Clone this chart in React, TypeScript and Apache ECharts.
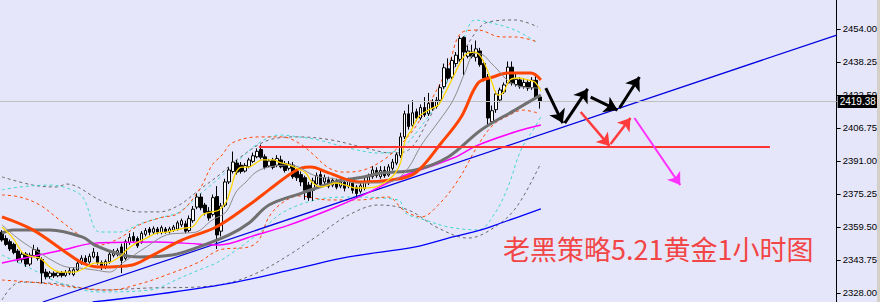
import { useEffect, useRef } from "react";
import * as echarts from "echarts";

// ---- candle data (bar index 0..135), [open, close, low, high] split into arrays ----
const opens = [
  2357.1, 2354.0, 2352.5, 2351.2, 2348.0, 2343.9, 2346.6, 2341.8, 2345.8, 2348.5,
  2344.0, 2338.0, 2335.8, 2337.4, 2336.2, 2337.6, 2336.4, 2337.5, 2336.8, 2339.0,
  2342.2, 2344.6, 2342.8, 2345.2, 2345.5, 2342.5, 2340.5, 2343.0, 2346.0, 2346.5,
  2350.0, 2344.5, 2352.0, 2355.0, 2354.0, 2352.5, 2356.0, 2358.5, 2357.0, 2358.5,
  2356.8, 2358.5, 2357.2, 2358.0, 2358.5, 2360.5, 2361.0, 2357.8, 2362.5, 2369.0,
  2373.8, 2370.0, 2367.0, 2365.5, 2374.0, 2357.5, 2370.0, 2381.0, 2386.0, 2390.0,
  2389.0, 2386.2, 2388.3, 2390.8, 2393.0, 2396.5, 2393.0, 2388.6, 2391.5, 2389.0,
  2391.5, 2389.8, 2387.5, 2389.0, 2386.0, 2384.5, 2383.0, 2379.5, 2377.0, 2380.0,
  2384.5, 2381.0, 2382.0, 2379.5, 2381.5, 2379.0, 2380.8, 2379.0, 2380.5, 2378.5,
  2376.5, 2378.0, 2380.5, 2383.5, 2386.5, 2383.5, 2386.5, 2384.3, 2387.5, 2390.0,
  2393.5, 2402.5, 2413.5, 2408.0, 2414.5, 2411.5, 2416.5, 2413.5, 2419.0, 2417.0,
  2420.0, 2426.5, 2435.0, 2431.0, 2437.5, 2439.5, 2450.0, 2441.0, 2443.0, 2440.5,
  2443.5, 2437.5, 2431.0, 2409.8, 2415.5, 2420.1, 2424.0, 2428.2, 2435.8, 2427.5,
  2429.7, 2426.5, 2428.5, 2426.0, 2429.5, 2421.5,
];
const closes = [
  2353.3, 2351.2, 2349.0, 2347.3, 2343.7, 2346.5, 2341.8, 2346.0, 2348.7, 2344.5,
  2337.6, 2335.8, 2337.5, 2336.2, 2337.6, 2336.4, 2337.8, 2338.6, 2339.1, 2342.2,
  2344.6, 2342.8, 2345.5, 2347.5, 2342.5, 2340.3, 2343.0, 2346.5, 2347.8, 2348.2,
  2343.5, 2352.5, 2354.5, 2353.0, 2350.5, 2356.5, 2357.8, 2357.0, 2358.7, 2357.0,
  2359.2, 2357.2, 2358.6, 2359.5, 2361.5, 2362.5, 2357.5, 2363.5, 2368.0, 2373.8,
  2368.7, 2366.5, 2363.8, 2373.5, 2355.7, 2369.5, 2381.0, 2386.7, 2390.5, 2385.7,
  2386.0, 2388.8, 2391.5, 2393.5, 2395.6, 2392.8, 2388.0, 2391.0, 2388.0, 2392.2,
  2388.2, 2386.5, 2389.5, 2383.5, 2383.0, 2381.0, 2377.0, 2373.5, 2381.5, 2384.0,
  2379.8, 2383.0, 2379.0, 2381.8, 2378.5, 2381.0, 2378.0, 2381.5, 2377.0, 2375.5,
  2379.2, 2381.0, 2383.5, 2386.7, 2384.0, 2386.5, 2384.0, 2388.2, 2390.5, 2394.0,
  2402.5, 2413.5, 2407.5, 2414.0, 2411.5, 2416.5, 2413.0, 2418.5, 2416.0, 2420.0,
  2426.0, 2435.5, 2430.5, 2439.0, 2441.5, 2449.5, 2443.0, 2443.5, 2441.0, 2444.5,
  2437.0, 2430.5, 2411.5, 2415.0, 2423.0, 2424.9, 2427.3, 2435.8, 2428.2, 2430.0,
  2426.5, 2428.5, 2425.8, 2429.5, 2421.5, 2419.38,
];
const lows = [
  2352.5, 2350.5, 2348.0, 2346.5, 2342.5, 2342.5, 2340.5, 2340.8, 2345.0, 2343.5,
  2332.5, 2334.5, 2334.8, 2335.2, 2335.5, 2335.4, 2335.7, 2336.5, 2336.0, 2338.3,
  2341.5, 2341.7, 2342.0, 2344.5, 2341.5, 2339.0, 2339.5, 2342.0, 2345.0, 2345.5,
  2337.5, 2343.5, 2351.0, 2352.0, 2349.5, 2351.5, 2355.0, 2355.5, 2356.0, 2356.0,
  2356.0, 2356.3, 2356.4, 2357.2, 2357.8, 2359.5, 2356.5, 2357.0, 2361.5, 2368.0,
  2367.5, 2365.0, 2362.5, 2364.5, 2349.0, 2355.0, 2369.0, 2380.0, 2385.0, 2384.5,
  2385.0, 2385.5, 2387.5, 2390.0, 2392.3, 2391.8, 2387.0, 2388.0, 2387.0, 2388.0,
  2387.5, 2385.5, 2386.5, 2382.5, 2381.5, 2379.0, 2372.5, 2372.0, 2372.0, 2379.0,
  2378.5, 2380.0, 2378.0, 2378.5, 2377.5, 2378.0, 2376.5, 2378.0, 2375.5, 2373.5,
  2375.5, 2377.0, 2379.5, 2382.5, 2383.0, 2382.5, 2383.0, 2383.5, 2386.5, 2389.0,
  2392.5, 2401.5, 2406.0, 2407.0, 2410.0, 2410.5, 2412.0, 2412.5, 2415.0, 2416.0,
  2419.0, 2425.5, 2429.5, 2430.0, 2436.0, 2438.5, 2432.0, 2440.0, 2440.0, 2438.5,
  2436.0, 2429.0, 2407.5, 2408.5, 2414.0, 2419.0, 2423.0, 2427.5, 2427.0, 2426.5,
  2425.5, 2425.5, 2424.5, 2425.0, 2420.5, 2416.0,
];
const highs = [
  2358.0, 2355.5, 2353.5, 2352.0, 2349.0, 2347.5, 2347.5, 2347.2, 2351.0, 2349.8,
  2345.0, 2339.5, 2338.5, 2338.3, 2338.6, 2338.5, 2339.0, 2340.0, 2340.3, 2343.5,
  2346.0, 2346.0, 2346.8, 2349.5, 2347.5, 2343.5, 2344.0, 2347.5, 2349.0, 2349.3,
  2351.5, 2353.5, 2356.5, 2357.0, 2355.0, 2357.5, 2359.0, 2359.5, 2359.8, 2359.5,
  2360.2, 2359.5, 2359.6, 2360.5, 2362.5, 2363.5, 2362.5, 2365.0, 2369.5, 2375.5,
  2375.5, 2371.0, 2369.0, 2375.0, 2379.0, 2371.0, 2382.5, 2388.0, 2395.5, 2391.5,
  2390.5, 2390.0, 2392.5, 2395.0, 2397.0, 2398.8, 2394.2, 2392.0, 2392.5, 2393.8,
  2393.5, 2391.0, 2391.0, 2390.5, 2387.5, 2386.0, 2384.0, 2381.0, 2383.0, 2385.5,
  2386.5, 2384.5, 2383.5, 2383.0, 2382.5, 2382.5, 2382.0, 2383.0, 2381.5, 2379.5,
  2380.5, 2383.5, 2385.0, 2388.5, 2388.0, 2388.5, 2388.5, 2389.5, 2392.0, 2395.0,
  2404.5, 2415.0, 2418.0, 2420.0, 2416.0, 2418.0, 2421.5, 2423.5, 2420.5, 2421.5,
  2427.5, 2437.5, 2440.0, 2440.5, 2443.0, 2450.5, 2450.5, 2446.0, 2446.5, 2448.5,
  2445.0, 2439.0, 2432.5, 2417.5, 2424.5, 2426.0, 2428.5, 2438.5, 2438.5, 2432.5,
  2431.0, 2430.5, 2430.0, 2431.0, 2433.0, 2422.0,
];

// ---- indicator lines: [bar index, price] ----
const maFast = [
  [0, 2359.5], [2.75, 2354.2], [5.25, 2347.1], [7.75, 2345.2], [9.5, 2344.7], [12, 2340.4],
  [14.5, 2338.0], [18.25, 2338.0], [21.25, 2340.4], [23.25, 2342.3], [26.25, 2342.3],
  [29.5, 2345.2], [31.25, 2348.5], [33.75, 2351.9], [36.25, 2354.2], [38.75, 2356.6],
  [41.25, 2357.1], [43.75, 2358.1], [45.75, 2359.0], [47.75, 2359.5], [50.25, 2365.2],
  [52.75, 2366.7], [54.5, 2367.6], [56.25, 2371.4], [57.5, 2378.1], [58.75, 2385.7],
  [60.25, 2388.1], [62, 2388.1], [63.75, 2390.0], [65.25, 2391.5], [68.25, 2391.5],
  [69.5, 2390.5], [72, 2389.1], [73.75, 2387.7], [76.25, 2385.3], [77.75, 2381.0],
  [80.25, 2378.6], [82, 2379.5], [83.75, 2380.5], [86.25, 2379.5], [88.75, 2378.1],
  [90.75, 2378.1], [93.75, 2378.6], [97, 2381.9], [98.75, 2385.3], [100, 2390.0],
  [101.25, 2401.0], [102.75, 2405.8], [104.5, 2412.0], [107, 2415.3], [109.5, 2417.7],
  [111.25, 2423.5], [113.25, 2431.1], [116.25, 2441.6], [118.75, 2443.0], [120.25, 2440.6],
  [121.5, 2435.9], [122.75, 2429.7], [124.5, 2422.5], [125.75, 2423.5], [127.5, 2429.7],
  [129.5, 2430.6], [132, 2429.7], [133.75, 2428.7], [135.25, 2424.4],
];
const maMid = [
  [0, 2360.5], [4.5, 2353.3], [9.5, 2347.1], [13.75, 2342.3], [16.25, 2340.4], [19.5, 2339.9],
  [23.25, 2339.0], [27, 2338.0], [30.25, 2342.3], [36.25, 2350.0], [41.25, 2355.7],
  [45.75, 2356.6], [48.75, 2357.1], [52.75, 2362.8], [56.25, 2366.7], [58.75, 2376.2],
  [61.25, 2381.0], [63.75, 2385.7], [67, 2388.1], [72, 2389.1], [74.5, 2388.1], [77, 2385.3],
  [79.5, 2383.4], [82, 2382.9], [85.25, 2381.9], [88.75, 2380.5], [94.5, 2380.5],
  [98.75, 2381.9], [102, 2387.7], [105.25, 2398.6], [109.5, 2409.6], [113.25, 2420.1],
  [116.25, 2433.5], [118.75, 2442.5], [120.75, 2441.6], [122.75, 2437.8], [124.5, 2434.4],
  [126.25, 2430.6], [128.25, 2427.8], [130.75, 2426.3], [135.25, 2425.8],
];
const maOrange = [
  [0, 2364.3], [7.75, 2358.1], [16.25, 2347.1], [20.25, 2342.3], [24.5, 2340.4], [32.75, 2341.4],
  [37, 2345.2], [45.25, 2353.3], [53.75, 2359.5], [62, 2370.0], [67, 2377.2], [72, 2384.3],
  [75.25, 2387.7], [77.5, 2388.1], [82, 2385.3], [89.5, 2381.0], [97.75, 2381.9],
  [103.75, 2385.3], [110.25, 2399.6], [115.25, 2412.0], [119.5, 2428.2], [123.25, 2431.1],
  [127, 2433.0], [132.75, 2433.0], [135.25, 2429.7],
];
const maSlow = [
  [0, 2356.6], [2.75, 2358.1], [12, 2358.1], [20.25, 2354.7], [23.25, 2350.9], [30.25, 2346.1],
  [34.5, 2345.2], [42.75, 2346.1], [48.75, 2349.5], [57, 2355.7], [62, 2361.4], [67, 2370.0],
  [75.25, 2375.7], [83.75, 2381.0], [90.75, 2383.4], [95.25, 2385.3], [103.75, 2386.7],
  [112, 2392.9], [120.25, 2405.8], [128.75, 2415.3], [135.25, 2422.5],
];
const maMagenta = [
  [0, 2342.3], [7, 2345.2], [15.25, 2348.5], [23.25, 2351.8], [38.75, 2352.3], [45.75, 2351.8],
  [54.5, 2350.9], [63.75, 2355.7], [72, 2360.4], [82, 2367.6], [90.75, 2374.8], [99.5, 2382.9],
  [113.25, 2392.4], [119.5, 2398.6], [129.5, 2405.3], [135.25, 2408.2],
];
const maBlue = [
  [22.75, 2323.7], [41.25, 2328.0], [57.75, 2332.8], [74.5, 2339.9], [87, 2345.2],
  [103.75, 2350.0], [112, 2354.2], [120.25, 2358.1], [125.25, 2361.4], [135.25, 2368.1],
];
const bandOrangeUp = [
  [0, 2374.8], [4.5, 2373.8], [9.5, 2370.0], [14.5, 2362.8], [19.5, 2355.7], [24.5, 2350.9],
  [29.5, 2354.2], [34.5, 2360.5], [39.5, 2363.8], [44.5, 2366.2], [49.5, 2377.2], [52.75, 2389.1],
  [55.25, 2393.9], [57.75, 2399.6], [64.5, 2402.5], [70.25, 2402.5], [74.5, 2399.6],
  [78.25, 2393.9], [82, 2387.7], [85.75, 2385.7], [90.75, 2386.7], [95.75, 2391.5],
  [99.5, 2397.7], [103.75, 2407.2], [107.75, 2420.1], [112, 2435.9], [115.25, 2452.1],
  [119.5, 2453.5], [125.25, 2450.2], [128.75, 2450.2], [134.5, 2447.8],
];
const bandOrangeDown = [
  [0, 2334.2], [9.5, 2332.8], [19.5, 2330.4], [27, 2329.4], [34.5, 2332.3], [42, 2337.1],
  [49.5, 2342.8], [54.5, 2348.5], [62, 2350.0], [64.5, 2353.3], [67, 2364.3], [70.25, 2370.9],
  [74.5, 2374.3], [82, 2372.4], [89.5, 2372.4], [97, 2373.8], [100.75, 2367.6], [105.25, 2364.3],
  [109.5, 2370.0], [114.5, 2381.9], [119.5, 2398.6], [123.25, 2408.2], [127, 2412.5],
  [130.75, 2415.3], [134.5, 2413.9],
];
const bandCyanUp = [
  [0, 2377.2], [4.5, 2378.6], [12, 2379.5], [16.25, 2378.1], [20.25, 2373.8], [24.5, 2357.1],
  [29.5, 2357.1], [34.5, 2360.9], [39.5, 2363.8], [44.5, 2366.7], [49.5, 2374.8], [54.5, 2382.9],
  [59.5, 2391.5], [64.5, 2399.6], [69.5, 2403.4], [74.5, 2402.5], [79.5, 2401.0], [87, 2397.2],
  [94.5, 2394.8], [99.5, 2396.2], [104.5, 2405.8], [109.5, 2420.1], [114.5, 2441.6],
  [118.75, 2458.3], [122, 2457.3], [128.75, 2453.5], [134.5, 2447.3],
];
const bandCyanDown = [
  [0, 2346.1], [7, 2339.9], [14.5, 2332.8], [24.5, 2328.5], [37, 2329.4], [45.25, 2335.6],
  [49.5, 2339.0], [53.75, 2342.3], [57.75, 2347.1], [64.5, 2356.6], [70.25, 2366.2],
  [78.75, 2372.4], [87, 2373.8], [99.5, 2372.4], [101.25, 2366.2], [106.25, 2362.8],
  [112, 2359.5], [119.5, 2358.1], [123.75, 2366.2], [127, 2378.6], [130.25, 2396.2],
  [133.75, 2407.2], [135.25, 2412.0],
];
const bandGrayUp = [
  [0, 2383.4], [7.75, 2379.5], [13.75, 2378.6], [16.25, 2380.0], [24.5, 2372.4], [29.5, 2368.6],
  [34.5, 2366.7], [39.5, 2366.7], [44.5, 2370.0], [49.5, 2377.2], [54.5, 2384.3], [59.5, 2392.4],
  [67, 2401.0], [74.5, 2402.5], [82.75, 2401.0], [91.25, 2397.2], [97.75, 2394.8], [102, 2396.2],
  [107, 2410.6], [112, 2429.7], [118.75, 2452.1], [122, 2457.3], [128.75, 2458.3], [134.5, 2455.0],
];
const bandGrayDown = [
  [0, 2324.7], [4.5, 2333.2], [14.5, 2332.3], [24.5, 2329.4], [37, 2330.4], [49.5, 2330.9],
  [57, 2332.8], [64.5, 2338.0], [72, 2346.1], [79.5, 2355.7], [87, 2365.2], [94.5, 2370.0],
  [102, 2367.6], [109.5, 2359.0], [117, 2354.2], [124.5, 2360.5], [129.5, 2370.0], [135.25, 2390.0],
];

// ---- drawn annotations ----
const trendLine = [[10.25, 2323.7], [209.5, 2451.1]];
const supportLine = [[64.5, 2397.7], [192.75, 2397.7]];
const blackArrows = [
  [136.5, 2425.8, 140.75, 2409.1],
  [141.25, 2409.1, 147, 2425.4],
  [147.75, 2421.5, 154.5, 2415.3],
  [155, 2416.3, 160, 2431.1],
];
const redArrows = [
  [145.25, 2414.4, 152.5, 2398.2],
  [152.75, 2399.1, 157.75, 2411.5],
];
const magentaArrows = [[158.75, 2411.5, 170.25, 2379.5]];

const priceTicks = [2328, 2343.75, 2359.5, 2375.25, 2391, 2406.75, 2422.5, 2438.25, 2454];
const lastPrice = 2419.38;
const yMin = 2323.7;
const yMax = 2467.84;
const slotCount = 210;
const titleText = "老黑策略5.21黄金1小时图";

function lineSeries(name: string, data: number[][], color: string, width: number, opts: any = {}) {
  return {
    name,
    type: "line",
    xAxisIndex: 1,
    yAxisIndex: 0,
    data,
    showSymbol: false,
    symbol: "none",
    smooth: opts.smooth ?? 0.35,
    silent: true,
    z: opts.z ?? 4,
    lineStyle: { color, width, type: opts.dash ?? "solid" },
  };
}

function arrowSeries(name: string, arr: number[][], color: string, width: number, size: number) {
  return {
    name,
    type: "lines",
    coordinateSystem: "cartesian2d",
    xAxisIndex: 1,
    yAxisIndex: 0,
    z: 8,
    symbol: ["none", "arrow"],
    symbolSize: size,
    lineStyle: { color, width, opacity: 1, curveness: 0 },
    data: arr.map((a) => ({ coords: [[a[0], a[1]], [a[2], a[3]]] })),
  };
}

export default function App() {
  const ref = useRef<HTMLDivElement>(null);
  useEffect(() => {
    const chart = echarts.init(ref.current!, null, { renderer: "svg" });
    const slots = Array.from({ length: slotCount }, (_, i) => String(i));
    const candleData = opens.map((o, i) => [o, closes[i], lows[i], highs[i]]);
    const dash = [3, 3];
    const option: any = {
      animation: false,
      backgroundColor: "#e6e6fa",
      grid: { left: 0, right: 40, top: 0, bottom: 0, containLabel: false },
      xAxis: [
        { type: "category", data: slots, boundaryGap: true, show: false },
        { type: "value", min: -0.5, max: slotCount - 0.5, show: false },
      ],
      yAxis: {
        type: "value",
        position: "right",
        min: yMin,
        max: yMax,
        scale: true,
        splitLine: { show: false },
        axisLine: { show: true, onZero: false, lineStyle: { color: "#000", width: 1 } },
        axisTick: { show: true, length: 4, customValues: priceTicks, lineStyle: { color: "#000" } },
        axisLabel: {
          show: true,
          customValues: priceTicks,
          margin: 6,
          color: "#000",
          fontSize: 9.5,
          fontFamily: "Liberation Sans, Arial, sans-serif",
          formatter: (v: number) => v.toFixed(2),
        },
      },
      series: [
        lineSeries("bandGrayUp", bandGrayUp, "#696969", 1, { dash, z: 1 }),
        lineSeries("bandGrayDown", bandGrayDown, "#696969", 1, { dash, z: 1 }),
        lineSeries("bandCyanUp", bandCyanUp, "#40d8d0", 1, { dash, z: 1 }),
        lineSeries("bandCyanDown", bandCyanDown, "#40d8d0", 1, { dash, z: 1 }),
        lineSeries("bandOrangeUp", bandOrangeUp, "#ff4500", 1, { dash, z: 1 }),
        lineSeries("bandOrangeDown", bandOrangeDown, "#ff4500", 1, { dash, z: 1 }),
        {
          name: "price",
          type: "candlestick",
          xAxisIndex: 0,
          yAxisIndex: 0,
          data: candleData,
          barWidth: 3,
          z: 3,
          itemStyle: {
            color: "#ffffff",
            color0: "#000000",
            borderColor: "#000000",
            borderColor0: "#000000",
            borderWidth: 1,
          },
          markLine: {
            silent: true,
            symbol: ["none", "none"],
            lineStyle: { color: "#c0c0c0", width: 1, type: "solid" },
            label: {
              show: true,
              position: "end",
              distance: 1,
              formatter: () => lastPrice.toFixed(2),
              backgroundColor: "#000",
              color: "#fff",
              fontSize: 10,
              fontFamily: "Liberation Sans, Arial, sans-serif",
              padding: [2, 3, 1, 2],
            },
            data: [{ yAxis: lastPrice }],
          },
        },
        lineSeries("maBlue", maBlue, "#0000ff", 1.3, { z: 4 }),
        lineSeries("trend", trendLine, "#0000e0", 1.2, { smooth: false, z: 4 }),
        lineSeries("maMagenta", maMagenta, "#ff00ff", 1.5, { z: 4 }),
        lineSeries("maSlow", maSlow, "#707070", 3, { z: 5 }),
        lineSeries("maOrange", maOrange, "#ff4500", 3, { z: 5 }),
        lineSeries("maMid", maMid, "#8c8c8c", 1, { z: 6 }),
        lineSeries("maFast", maFast, "#ffd700", 1.3, { z: 6 }),
        lineSeries("support", supportLine, "#ff3535", 2, { smooth: false, z: 6 }),
        arrowSeries("blackArrows", blackArrows, "#000000", 3, 13),
        arrowSeries("redArrows", redArrows, "#ff3b3b", 2.5, 12),
        arrowSeries("magentaArrows", magentaArrows, "#ff33ff", 2, 12),
      ],
      graphic: [
        {
          type: "text",
          left: 503,
          top: 235,
          z: 20,
          style: {
            text: titleText,
            fill: "#f24646",
            font: "27px 'Noto Sans CJK SC', sans-serif",
          },
        },
        {
          type: "rect",
          right: 0,
          top: 0,
          z: 20,
          shape: { width: 3, height: 302 },
          style: { fill: "#d4d0c8" },
        },
      ],
    };
    chart.setOption(option);
    return () => chart.dispose();
  }, []);
  return (
    <div
      ref={ref}
      style={{ position: "absolute", left: 0, top: 0, width: 880, height: 302 }}
    />
  );
}
